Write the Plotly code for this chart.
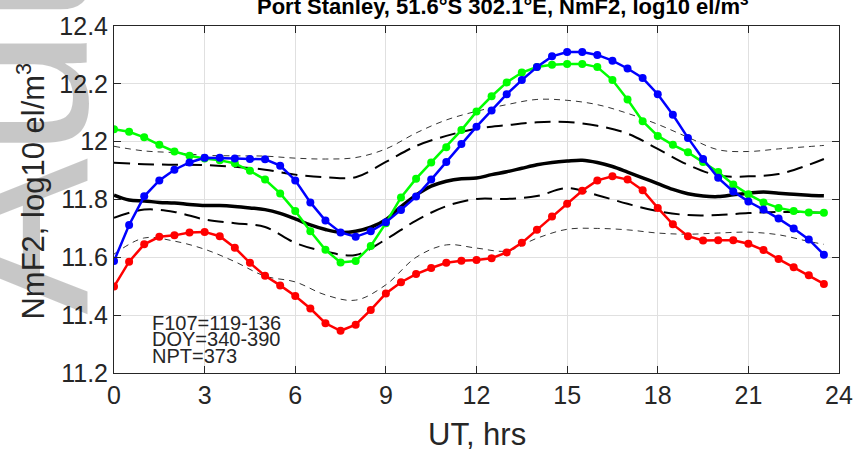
import plotly.graph_objects as go

# ---------------- data ----------------
ut_half = [0, 0.5, 1, 1.5, 2, 2.5, 3, 3.5, 4, 4.5, 5, 5.5, 6, 6.5, 7, 7.5, 8, 8.5, 9, 9.5,
           10, 10.5, 11, 11.5, 12, 12.5, 13, 13.5, 14, 14.5, 15, 15.5, 16, 16.5, 17, 17.5,
           18, 18.5, 19, 19.5, 20, 20.5, 21, 21.5, 22, 22.5, 23, 23.5]

red = [11.499, 11.585, 11.645, 11.671, 11.676, 11.686, 11.688, 11.673, 11.633, 11.581,
       11.536, 11.503, 11.466, 11.423, 11.372, 11.346, 11.367, 11.418, 11.475, 11.514,
       11.542, 11.563, 11.581, 11.588, 11.591, 11.597, 11.617, 11.650, 11.695, 11.741,
       11.785, 11.830, 11.866, 11.880, 11.869, 11.832, 11.771, 11.714, 11.673, 11.658,
       11.659, 11.659, 11.647, 11.625, 11.594, 11.566, 11.538, 11.508]

blue = [11.587, 11.712, 11.811, 11.866, 11.903, 11.928, 11.944, 11.944, 11.942, 11.940,
        11.939, 11.917, 11.866, 11.790, 11.727, 11.686, 11.671, 11.690, 11.721, 11.764,
        11.810, 11.869, 11.930, 11.992, 12.052, 12.108, 12.164, 12.213, 12.258, 12.295,
        12.310, 12.310, 12.300, 12.280, 12.253, 12.220, 12.164, 12.093, 12.013, 11.940,
        11.875, 11.828, 11.793, 11.765, 11.734, 11.700, 11.662, 11.609]

green = [12.043, 12.034, 12.015, 11.989, 11.966, 11.951, 11.942, 11.936, 11.925, 11.899,
         11.869, 11.821, 11.760, 11.690, 11.626, 11.582, 11.587, 11.639, 11.718, 11.807,
         11.872, 11.928, 11.981, 12.040, 12.104, 12.157, 12.205, 12.239, 12.258, 12.266,
         12.269, 12.269, 12.258, 12.213, 12.146, 12.071, 12.020, 11.989, 11.963, 11.930,
         11.895, 11.852, 11.818, 11.790, 11.771, 11.760, 11.755, 11.754]

median = [11.815, 11.798, 11.795, 11.790, 11.788, 11.783, 11.779, 11.779, 11.776, 11.771,
          11.765, 11.752, 11.733, 11.712, 11.696, 11.686, 11.690, 11.704, 11.730, 11.775,
          11.815, 11.846, 11.863, 11.872, 11.874, 11.886, 11.896, 11.908, 11.920, 11.928,
          11.933, 11.936, 11.928, 11.914, 11.895, 11.875, 11.855, 11.835, 11.820, 11.812,
          11.810, 11.816, 11.822, 11.826, 11.822, 11.818, 11.815, 11.813]

ut_hour = [0, 1, 2, 3, 4, 5, 6, 7, 8, 9, 10, 11, 12, 13, 14, 15, 16, 17, 18, 19, 20, 21,
           22, 23, 23.5]

upper_quartile = [11.927, 11.922, 11.920, 11.919, 11.913, 11.903, 11.886, 11.877, 11.877,
                  11.930, 11.985, 12.020, 12.045, 12.057, 12.067, 12.068, 12.055, 12.028,
                  11.975, 11.920, 11.883, 11.880, 11.888, 11.920, 11.940]

lower_quartile = [11.737, 11.765, 11.757, 11.731, 11.718, 11.705, 11.650, 11.620, 11.608,
                  11.662, 11.727, 11.777, 11.802, 11.802, 11.812, 11.839, 11.815, 11.785,
                  11.760, 11.746, 11.746, 11.753, 11.757, 11.756, 11.754]

upper_decile = [11.984, 11.968, 11.962, 11.953, 11.951, 11.950, 11.943, 11.940, 11.945,
                11.975, 12.030, 12.075, 12.105, 12.128, 12.146, 12.143, 12.128, 12.098,
                12.060, 12.015, 11.972, 11.966, 11.975, 11.983, 11.987]

lower_decile = [11.611, 11.667, 11.656, 11.628, 11.585, 11.535, 11.515, 11.470, 11.452,
                11.505, 11.600, 11.643, 11.632, 11.622, 11.666, 11.697, 11.700, 11.695,
                11.684, 11.680, 11.684, 11.687, 11.678, 11.655, 11.645]

x_ticks = [0, 3, 6, 9, 12, 15, 18, 21, 24]
y_ticks = [11.2, 11.4, 11.6, 11.8, 12.0, 12.2, 12.4]
y_ticklabels = ["11.2", "11.4", "11.6", "11.8", "12", "12.2", "12.4"]

title_text = "Port Stanley, 51.6°S 302.1°E, NmF2, log10 el/m<sup>3</sup>"
x_title = "UT, hrs"
y_title = "NmF2, log10 el/m<sup>3</sup>"
info_lines = ["F107=119-136", "DOY=340-390", "NPT=373"]

# ---------------- figure ----------------
FONT = "Liberation Sans, Arial, Helvetica, sans-serif"
fig = go.Figure()

for arr in (upper_decile, lower_decile):
    fig.add_trace(go.Scatter(x=ut_hour, y=arr, mode="lines", line_shape="spline",
                             line=dict(color="#333333", width=1, dash="6px,5px"),
                             hoverinfo="skip", showlegend=False))
for arr in (upper_quartile, lower_quartile):
    fig.add_trace(go.Scatter(x=ut_hour, y=arr, mode="lines", line_shape="spline",
                             line=dict(color="black", width=2, dash="16px,8px"),
                             hoverinfo="skip", showlegend=False))
fig.add_trace(go.Scatter(x=ut_half, y=median, mode="lines", line_shape="spline",
                         line=dict(color="black", width=3.5), showlegend=False))

for arr, col in ((red, "#ff0000"), (green, "#00ff00"), (blue, "#0000ff")):
    fig.add_trace(go.Scatter(x=ut_half, y=arr, mode="lines+markers",
                             line=dict(color=col, width=2.5),
                             marker=dict(color=col, size=8, symbol="circle"),
                             showlegend=False))

axis_common = dict(showline=True, linecolor="#262626", linewidth=1, mirror="allticks",
                   ticks="inside", ticklen=7, tickcolor="#262626", showgrid=True,
                   gridcolor="#e0e0e0", gridwidth=1, zeroline=False,
                   tickfont=dict(family=FONT, size=25, color="#262626"))

fig.update_xaxes(range=[0, 24], tickvals=x_ticks, **axis_common)
fig.update_yaxes(range=[11.2, 12.4], tickvals=y_ticks, ticktext=y_ticklabels, **axis_common)

annotations = [
    # watermark
    dict(text="Author", xref="paper", yref="paper", x=-0.149, y=1.165, xanchor="center",
         yanchor="middle", textangle=-90, showarrow=False,
         font=dict(family=FONT, size=235, color="rgba(0,0,0,0.22)")),
    dict(text="<b>" + title_text + "</b>", xref="paper", yref="paper", x=0.1946, y=1,
         xanchor="left", yanchor="bottom", yshift=5, showarrow=False,
         font=dict(family=FONT, size=22, color="black")),
    dict(text=x_title, xref="paper", yref="paper", x=0.5, y=0, xanchor="center",
         yanchor="middle", yshift=-61, showarrow=False,
         font=dict(family=FONT, size=31, color="#262626")),
    dict(text=y_title, xref="paper", yref="paper", x=-0.1158, y=0.523, xanchor="center",
         yanchor="middle", textangle=-90, showarrow=False,
         font=dict(family=FONT, size=31, color="#262626")),
]
for i, line in enumerate(info_lines):
    annotations.append(dict(text=line, xref="x", yref="paper", x=1.2,
                            y=(373.5 - (321.7 + 17.2 * i)) / 356.5,
                            xanchor="left", yanchor="middle", showarrow=False,
                            font=dict(family=FONT, size=20, color="#262626")))

fig.update_layout(width=865, height=450, margin=dict(l=114, r=20, t=17, b=77),
                  paper_bgcolor="white", plot_bgcolor="white", annotations=annotations,
                  showlegend=False)

fig.write_html("out.html")
